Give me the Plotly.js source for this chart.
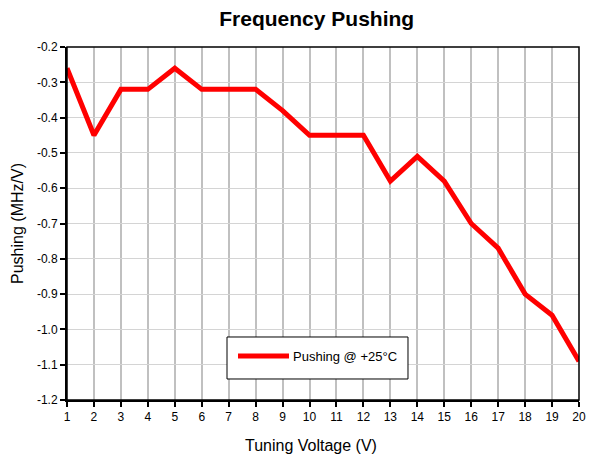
<!DOCTYPE html>
<html>
<head>
<meta charset="utf-8">
<script src="https://cdn.plot.ly/plotly-3.0.1.min.js"></script>
<style>html,body{margin:0;padding:0;background:#fff;}#chart{width:592px;height:457px;}</style>
</head>
<body>
<div id="chart"></div>
<script>
var tuningVoltage = [1,2,3,4,5,6,7,8,9,10,11,12,13,14,15,16,17,18,19,20];
var pushing = [-0.26,-0.45,-0.32,-0.32,-0.26,-0.32,-0.32,-0.32,-0.38,-0.45,-0.45,-0.45,-0.58,-0.51,-0.58,-0.70,-0.77,-0.90,-0.96,-1.09];
var yTickVals = [-0.2,-0.3,-0.4,-0.5,-0.6,-0.7,-0.8,-0.9,-1.0,-1.1,-1.2];
var yTickText = ["-0.2","-0.3","-0.4","-0.5","-0.6","-0.7","-0.8","-0.9","-1.0","-1.1","-1.2"];
var seriesName = "Pushing @ +25°C";
var xTitle = "Tuning Voltage (V)";

var font = "Liberation Sans, Arial, sans-serif";
var trace = {
  x: tuningVoltage, y: pushing, type: 'scatter', mode: 'lines',
  name: seriesName, showlegend: false,
  line: {color: '#ff0000', width: 5}
};
var layout = {
  width: 592, height: 457,
  margin: {l: 67, r: 13, t: 47, b: 57},
  paper_bgcolor: '#fff', plot_bgcolor: '#fff',
  font: {family: font, size: 12, color: '#000'},
  title: {text: '<b>Frequency Pushing</b>', font: {family: font, size: 21, color: '#000'}, x: 0.535, xanchor: 'center', y: 0.96, yanchor: 'middle'},
  showlegend: false,
  xaxis: {
    range: [1, 20], dtick: 1, tick0: 1, tickmode: 'linear',
    showgrid: true, gridcolor: '#c0c0c0', gridwidth: 2,
    showline: true, linecolor: '#000', linewidth: 2,
    ticks: 'outside', ticklen: 5, tickwidth: 2, tickcolor: '#000',
    zeroline: false, fixedrange: true,
    tickfont: {family: font, size: 12, color: '#000'}
  },
  yaxis: {
    range: [-1.2, -0.2], tickmode: 'array', tickvals: yTickVals, ticktext: yTickText,
    showgrid: true, gridcolor: '#d4d4d4', gridwidth: 1,
    showline: true, linecolor: '#000', linewidth: 2,
    ticks: 'outside', ticklen: 5, tickwidth: 2, tickcolor: '#000',
    zeroline: false, fixedrange: true,
    tickfont: {family: font, size: 12, color: '#000'},
    title: {text: 'Pushing (MHz/V)', font: {family: font, size: 16, color: '#000'}, standoff: 9}
  },
  shapes: [
    {type: 'rect', xref: 'paper', yref: 'paper', x0: 0, x1: 1, y0: 0, y1: 1, line: {color: '#000', width: 1.5}, layer: 'above'},
    {type: 'rect', xref: 'paper', yref: 'paper', x0: 0.3125, x1: 0.666, y0: 0.0595, y1: 0.1785, fillcolor: '#fff', line: {color: '#000', width: 1}, layer: 'above'},
    {type: 'line', xref: 'paper', yref: 'paper', x0: 0.334, x1: 0.4336, y0: 0.1246, y1: 0.1246, line: {color: '#ff0000', width: 5}, layer: 'above'}
  ],
  annotations: [
    {xref: 'paper', yref: 'paper', x: 0.4375, y: 0.1246, xanchor: 'left', yanchor: 'middle', showarrow: false, text: seriesName, font: {family: font, size: 13, color: '#000'}},
    {xref: 'paper', yref: 'paper', x: 0.4775, y: -0.1275, xanchor: 'center', yanchor: 'middle', showarrow: false, text: xTitle, font: {family: font, size: 16, color: '#000'}}
  ]
};
Plotly.newPlot('chart', [trace], layout, {staticPlot: true, displayModeBar: false});
</script>
</body>
</html>
